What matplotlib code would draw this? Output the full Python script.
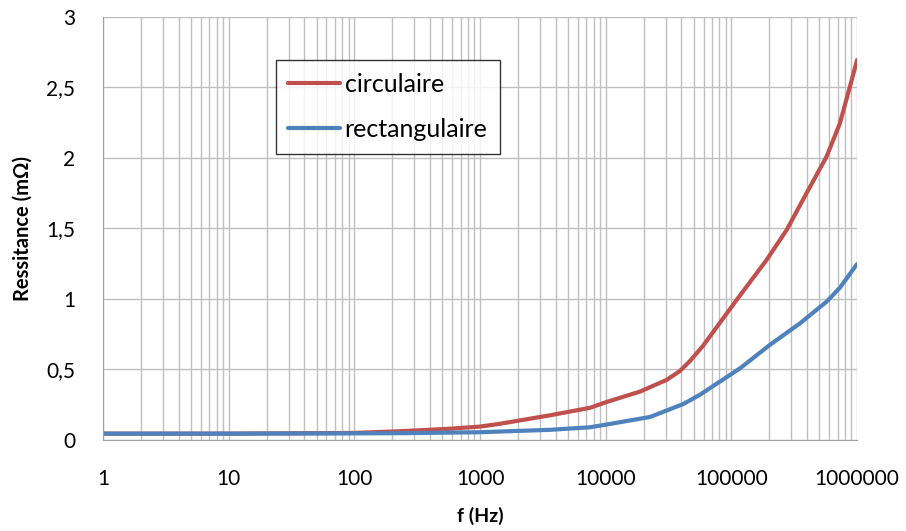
import numpy as np
import matplotlib
matplotlib.use("Agg")
import matplotlib.pyplot as plt
from matplotlib.ticker import LogLocator, NullFormatter

plt.rcParams['font.family'] = ['Lato', 'DejaVu Sans']

# Donnees
f_circ = [1, 10, 100, 230, 577, 1000, 1440, 3600, 7480, 10200, 18700, 30500,
          39000, 46800, 59700, 110000, 190500, 275000, 396000, 572000, 730000,
          877000, 1000000]
r_circ = [0.045, 0.045, 0.05, 0.062, 0.08, 0.095, 0.115, 0.175, 0.228, 0.27, 0.343,
          0.426, 0.49, 0.56, 0.67, 0.993, 1.277, 1.489, 1.75, 2.01, 2.246, 2.506, 2.695]

f_rect = [1, 10, 100, 230, 1000, 1440, 3600, 7480, 10200, 22500, 41400, 56000,
          117000, 202000, 351000, 572000, 730000, 1000000]
r_rect = [0.045, 0.045, 0.047, 0.048, 0.055, 0.06, 0.072, 0.09, 0.11, 0.163, 0.255,
          0.32, 0.508, 0.674, 0.827, 0.981, 1.08, 1.248]

y_ticks = [0, 0.5, 1, 1.5, 2, 2.5, 3]
y_labels = ['0', '0,5', '1', '1,5', '2', '2,5', '3']
x_ticks = [1, 10, 100, 1000, 10000, 100000, 1000000]
x_labels = ['1', '10', '100', '1000', '10000', '100000', '1000000']

fig = plt.figure(figsize=(9.06, 5.31), dpi=100)
ax = fig.add_axes([0.1137, 0.1714, 0.8323, 0.7966])

ax.plot(f_circ, r_circ, color='#C0504D', linewidth=3, label='circulaire',
        solid_capstyle='round', solid_joinstyle='round')
ax.plot(f_rect, r_rect, color='#4F81BD', linewidth=3, label='rectangulaire',
        solid_capstyle='round', solid_joinstyle='round')

ax.set_xscale('log')
ax.set_xlim(1, 1e6)
ax.set_ylim(0, 3)
ax.set_xticks(x_ticks)
ax.set_xticklabels(x_labels)
ax.xaxis.set_minor_locator(LogLocator(base=10, subs=np.arange(2, 10)))
ax.xaxis.set_minor_formatter(NullFormatter())
ax.set_yticks(y_ticks)
ax.set_yticklabels(y_labels)

ax.grid(True, which='major', color='#BFBFBF', linewidth=1)
ax.grid(True, which='minor', axis='x', color='#BFBFBF', linewidth=1)
ax.set_axisbelow(True)
for s in ['top', 'right']:
    ax.spines[s].set_visible(False)
for s in ['left', 'bottom']:
    ax.spines[s].set_color('#A0A0A0')
ax.tick_params(which='both', length=0, labelsize=15, colors='black')
ax.tick_params(axis='x', pad=21)
ax.tick_params(axis='y', pad=20)

ax.set_xlabel('f (Hz)', fontsize=14, fontweight='bold', labelpad=13)
ax.set_ylabel('Ressitance (mΩ)', fontsize=14.5, fontweight='bold', labelpad=10)

leg = ax.legend(loc='upper left', bbox_to_anchor=(0.2294, 0.898), fontsize=18,
                frameon=True, fancybox=False, edgecolor='black', handlelength=2.05,
                handletextpad=0.2, labelspacing=0.9, borderpad=0.5,
                borderaxespad=0)
leg.get_frame().set_linewidth(1)

plt.savefig('out.png', dpi=100)
plt.close()
